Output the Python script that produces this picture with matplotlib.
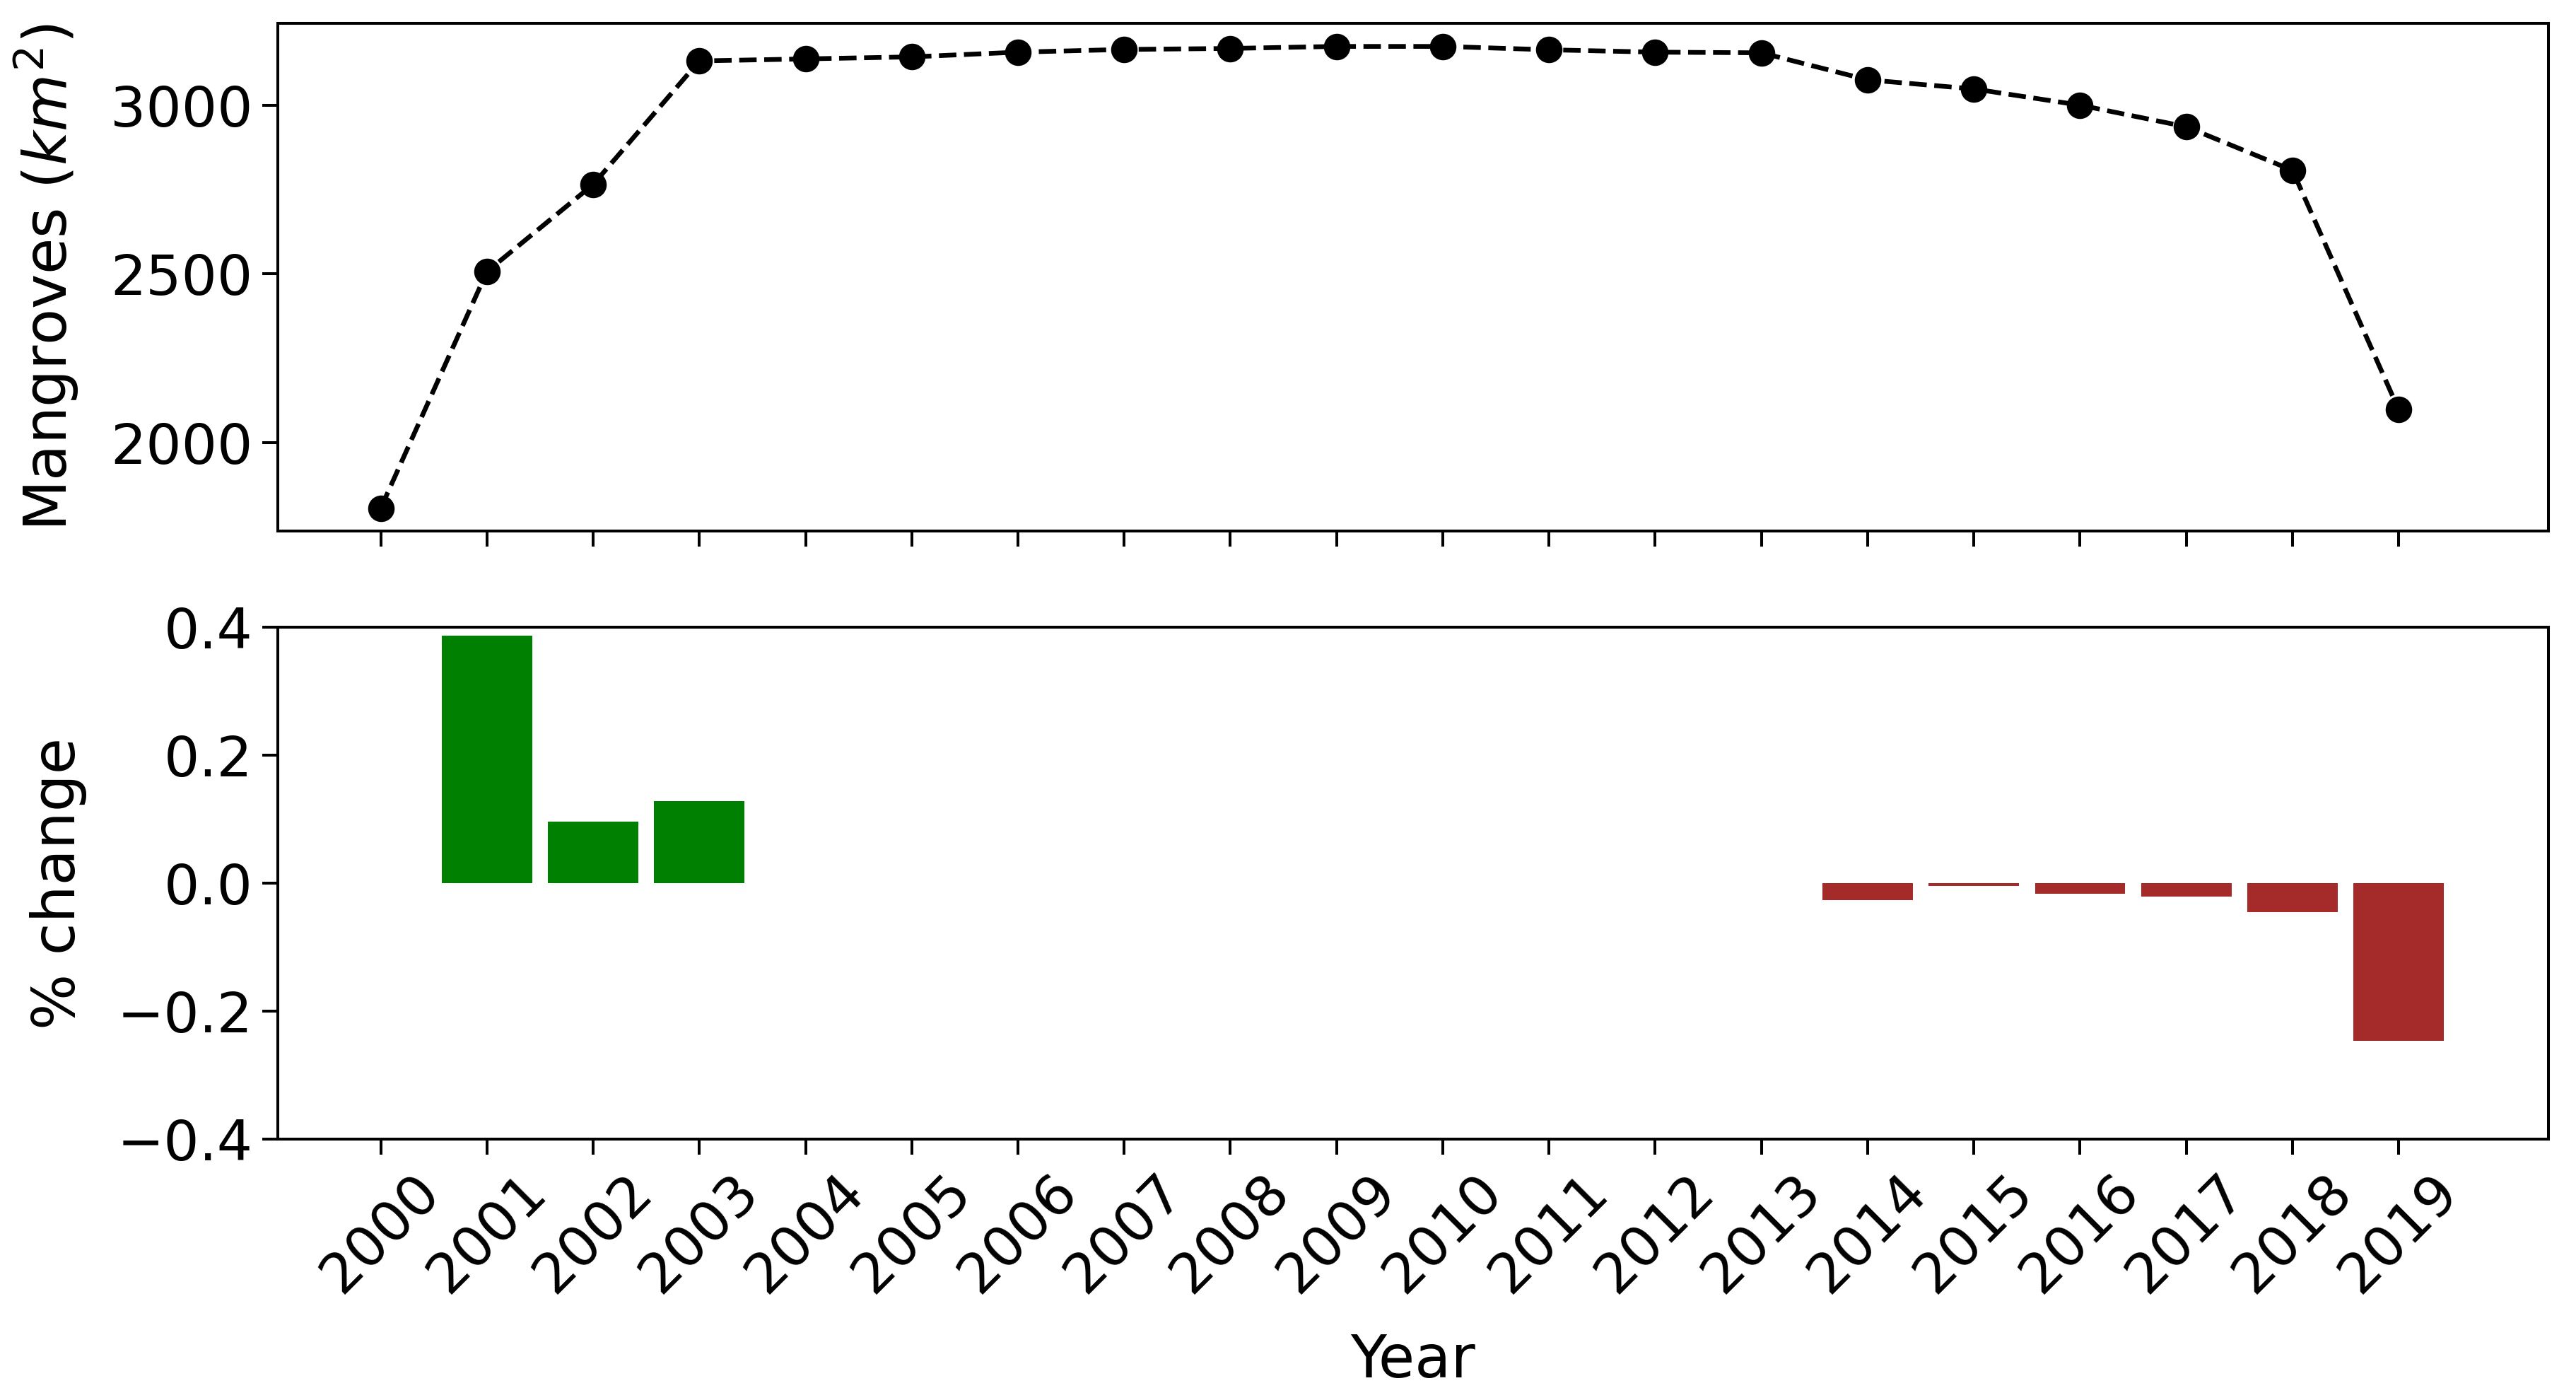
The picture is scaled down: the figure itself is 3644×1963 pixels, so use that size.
import numpy as np
import matplotlib
matplotlib.use("Agg")
import matplotlib.pyplot as plt

# Mangrove area per year
years = [2000, 2001, 2002, 2003, 2004, 2005, 2006, 2007, 2008, 2009,
         2010, 2011, 2012, 2013, 2014, 2015, 2016, 2017, 2018, 2019]
area_km2 = [1806, 2507, 2765, 3131, 3137, 3143, 3157, 3165, 3168, 3174,
            3174, 3164, 3157, 3155, 3075, 3048, 3000, 2936, 2807, 2098]

# Relative change shown as bars in the bottom panel
pct_change = [0.0, 0.387, 0.096, 0.128, 0.0, 0.0, 0.0, 0.0, 0.0, 0.0,
              0.0, 0.0, 0.0, 0.0, -0.026, -0.004, -0.016, -0.021, -0.045, -0.246]

plt.rcParams['font.family'] = ['DejaVu Sans']
plt.rcParams['font.size'] = 28.5
plt.rcParams['axes.labelsize'] = 30
plt.rcParams['axes.labelpad'] = 15
plt.rcParams['axes.linewidth'] = 1.45
plt.rcParams['xtick.major.size'] = 7.8
plt.rcParams['ytick.major.size'] = 7.8
plt.rcParams['xtick.major.width'] = 1.45
plt.rcParams['ytick.major.width'] = 1.45
plt.rcParams['xtick.major.pad'] = 5
plt.rcParams['ytick.major.pad'] = 5

fig = plt.figure(figsize=(18.22, 9.815), dpi=200)
ax1 = fig.add_axes([0.1078, 0.6172, 0.9893 - 0.1078, 0.9832 - 0.6172])
ax2 = fig.add_axes([0.1078, 0.1793, 0.9893 - 0.1078, 0.5481 - 0.1793], sharex=ax1)

x = np.arange(len(years))

ax1.plot(x, area_km2, 'k--', marker='o', markersize=12.5, linewidth=2.4)
ax1.set_ylabel('Mangroves ($km^2$)')
ax1.set_yticks([2000, 2500, 3000])
ax1.tick_params(axis='x', labelbottom=False)

colors = ['green' if v > 0 else 'brown' for v in pct_change]
ax2.bar(x, pct_change, width=0.85, color=colors)
ax2.set_ylim(-0.4, 0.4)
ax2.set_yticks([-0.4, -0.2, 0.0, 0.2, 0.4])
ax2.set_ylabel('% change')
ax2.set_xlabel('Year')
ax2.set_xticks(x)
ax2.set_xticklabels([str(y) for y in years], rotation=45)
ax2.set_xlim(-0.97, 20.41)

fig.savefig('out.png', dpi=200)
